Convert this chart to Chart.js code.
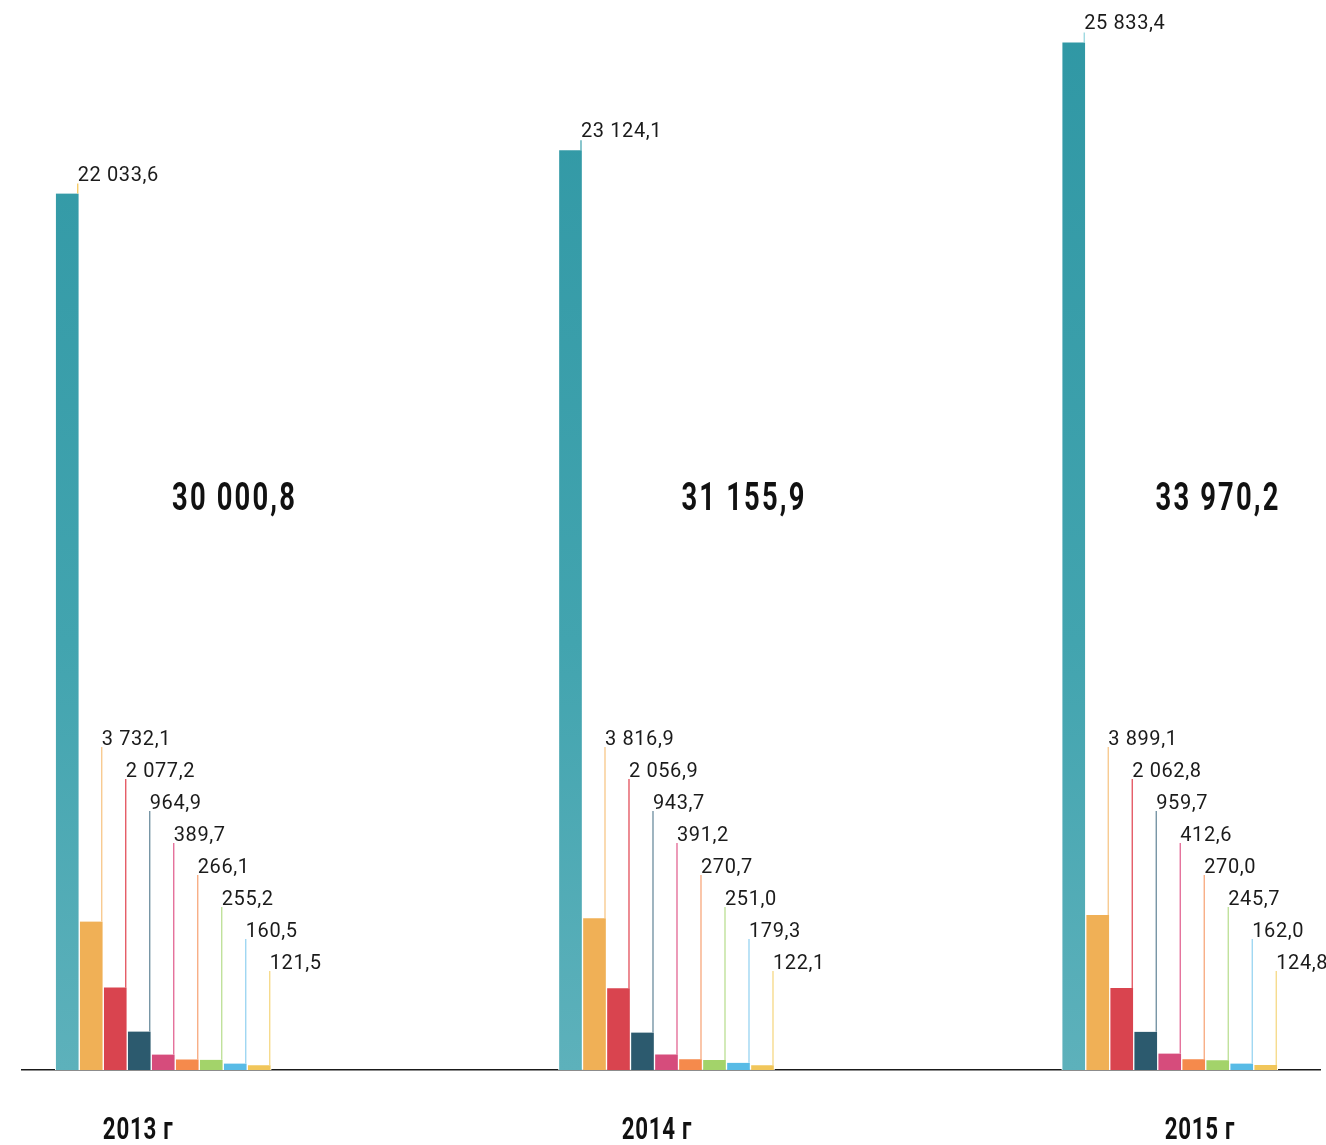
<!DOCTYPE html>
<html lang="ru">
<head>
<meta charset="utf-8">
<title>Объём по годам</title>
<script src="https://cdn.jsdelivr.net/npm/chart.js@4.4.1/dist/chart.umd.min.js"></script>
<style>
  html, body { margin: 0; padding: 0; background: #fff; }
  #wrap { width: 1326px; height: 1145px; }
</style>
</head>
<body>
<div id="wrap"><canvas id="volChart" width="1326" height="1145"></canvas></div>
<script>
const years = ["2013 г", "2014 г", "2015 г"];

// one array per series, values for 2013, 2014, 2015
const s1 = [22033.6, 23124.1, 25833.4];
const s2 = [3732.1, 3816.9, 3899.1];
const s3 = [2077.2, 2056.9, 2062.8];
const s4 = [964.9, 943.7, 959.7];
const s5 = [389.7, 391.2, 412.6];
const s6 = [266.1, 270.7, 270.0];
const s7 = [255.2, 251.0, 245.7];
const s8 = [160.5, 179.3, 162.0];
const s9 = [121.5, 122.1, 124.8];
const totals = [30000.8, 31155.9, 33970.2];

const series = [s1, s2, s3, s4, s5, s6, s7, s8, s9];
const barColors = ["#3a9fab", "#f0b056", "#d9444f", "#2c5a6e", "#d64c7c", "#f58a4c", "#a3d36a", "#58bbe6", "#f1c65a"];
const lineColors = ["#8fd3dc", "#f7c27e", "#e0404d", "#5f8396", "#e0588a", "#f7a071", "#b5dc8a", "#8fd0f0", "#f5d57a"];
const bigLineColors = ["#f5c34f", "#3a9fab", "#8fd3dc"];

// where the year captions and the totals sit along the x axis
const yearAt = [-0.05, 0.981, 2.06];
const totalAt = [0.1416, 1.154, 2.096];

const BOLD_FONT = "Roboto, 'DejaVu Sans', sans-serif";
const LABEL_FONT = "Roboto, 'DejaVu Sans', sans-serif";

function fmt(v) {
  const [i, d] = v.toFixed(1).split(".");
  return i.replace(/\B(?=(\d{3})+(?!\d))/g, " ") + "," + d;
}

// bold text squeezed horizontally, to get a condensed look
function narrowText(ctx, text, x, y, sx) {
  ctx.save();
  ctx.scale(sx, 1);
  ctx.fillText(text, x / sx, y);
  ctx.restore();
}

function tealFill(ctx) {
  const area = ctx.chart.chartArea;
  if (!area) return barColors[0];
  const g = ctx.chart.ctx.createLinearGradient(0, area.top, 0, area.bottom);
  g.addColorStop(0, "#2f97a4");
  g.addColorStop(0.6, "#42a4af");
  g.addColorStop(1, "#5db1bb");
  return g;
}

const datasets = series.map((vals, k) => ({
  data: vals.map((v, i) => ({ x: i, y: v })),
  backgroundColor: k === 0 ? tealFill : barColors[k],
  borderColor: "#ffffff",
  borderWidth: { left: 1, right: 1, top: 0, bottom: 0 },
  borderSkipped: "bottom",
  barThickness: 24,
  grouped: true,
}));

const valueLabels = {
  id: "valueLabels",
  afterDatasetsDraw(chart) {
    const { ctx, chartArea } = chart;
    const xScale = chart.scales.x;
    ctx.save();
    ctx.font = "20px " + LABEL_FONT;
    ctx.letterSpacing = "0.6px";
    ctx.textBaseline = "middle";
    ctx.textAlign = "left";
    ctx.fillStyle = "#1b1b1b";
    chart.data.datasets.forEach((ds, k) => {
      const meta = chart.getDatasetMeta(k);
      meta.data.forEach((bar, i) => {
        const right = bar.x + bar.width / 2 - 1.5;
        const top = bar.y;
        let textY, lineTop, color;
        if (k === 0) {
          textY = top - 18;
          lineTop = top - 10;
          color = bigLineColors[i];
        } else {
          textY = 740 + (k - 1) * 32;
          lineTop = textY + 7;
          color = lineColors[k];
        }
        ctx.strokeStyle = color;
        ctx.lineWidth = 1.2;
        ctx.beginPath();
        ctx.moveTo(right, lineTop);
        ctx.lineTo(right, top);
        ctx.stroke();
        ctx.fillText(fmt(series[k][i]), right, textY);
      });
    });

    ctx.fillStyle = "#111";
    ctx.textAlign = "center";
    ctx.font = "bold 38px " + BOLD_FONT;
    ctx.letterSpacing = "3px";
    totals.forEach((t, i) => {
      narrowText(ctx, fmt(t), xScale.getPixelForValue(totalAt[i]), 500, 0.72);
    });

    ctx.font = "bold 31px " + BOLD_FONT;
    ctx.letterSpacing = "1px";
    years.forEach((y, i) => {
      narrowText(ctx, y, xScale.getPixelForValue(yearAt[i]), chartArea.bottom + 61, 0.72);
    });
    ctx.restore();
  },
};

new Chart(document.getElementById("volChart"), {
  type: "bar",
  data: { datasets },
  options: {
    responsive: false,
    animation: false,
    layout: { padding: { left: 22, right: 6, top: 0, bottom: 75 } },
    plugins: { legend: { display: false }, tooltip: { enabled: false } },
    scales: {
      x: {
        type: "linear",
        offset: false,
        bounds: "data",
        min: -0.2807,
        max: 2.2986,
        grid: { display: true, offset: false, drawOnChartArea: false, drawTicks: false, color: "transparent" },
        border: { display: true, color: "#1a1a1a", width: 1.5 },
        ticks: { display: false },
      },
      y: {
        display: false,
        min: 0,
        max: 26900,
      },
    },
  },
  plugins: [valueLabels],
});
</script>
</body>
</html>
